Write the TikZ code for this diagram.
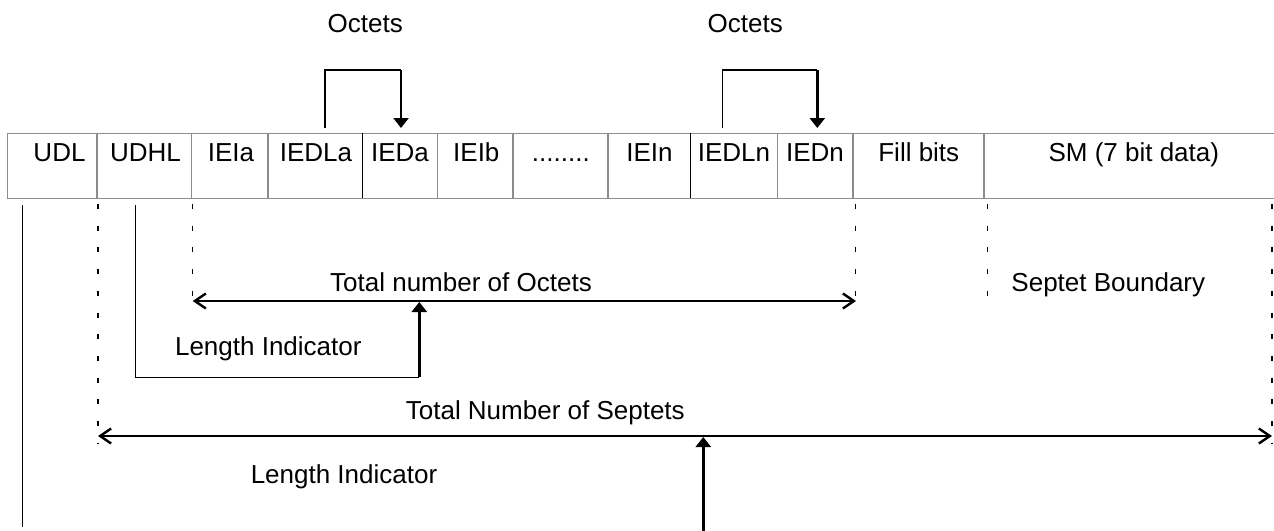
\documentclass[tikz,border=0pt]{standalone}
\usepackage{fontspec}
\setmainfont{Liberation Sans}
\usetikzlibrary{arrows.meta}
\begin{document}
\begin{tikzpicture}[x=1pt,y=-1pt,
  lbl/.style={anchor=base,inner sep=0pt,font=\fontsize{26}{30}\selectfont},
  cellline/.style={draw=black!45,line width=1.1pt},
  darkline/.style={draw=black,line width=1.1pt},
  thinl/.style={draw=black,line width=1.3pt},
  thickl/.style={draw=black,line width=2.6pt},
  dashl/.style={draw=black,line width=1.3pt,dash pattern=on 5pt off 16.7pt},
  openarr/.style={thickl,{Straight Barb[length=11pt,width=15pt,line width=2.4pt]}-{Straight Barb[length=11pt,width=15pt,line width=2.4pt]}},
  fillarr/.style={thickl,-{Triangle[length=10pt,width=15pt]}}
]
\useasboundingbox (0,0) rectangle (1274,530);

% ---- the field row ----
\draw[cellline] (7.3,133.3) -- (1274,133.3);
\draw[cellline] (7.3,198.3) -- (1274,198.3);
\foreach \x in {7.3,97,191.7,268,437.3,513,608,777.3,853,984}
  \draw[cellline] (\x,133.3) -- (\x,198.3);
\draw[darkline] (362.3,133.3) -- (362.3,198.3);
\draw[darkline] (690.7,133.3) -- (690.7,198.3);

\node[lbl] (udl)   at (59.5,161.7)  {UDL};
\node[lbl] (udhl)  at (145.5,161.7) {UDHL};
\node[lbl] (ieia)  at (231,161.7)   {IEIa};
\node[lbl] (iedla) at (316,161.7)   {IEDLa};
\node[lbl] (ieda)  at (400,161.7)   {IEDa};
\node[lbl] (ieib)  at (476.3,161.7) {IEIb};
\node[lbl] (dots)  at (560.8,161.7) {........};
\node[lbl] (iein)  at (649.5,161.7) {IEIn};
\node[lbl] (iedln) at (734,161.7)   {IEDLn};
\node[lbl] (iedn)  at (815,161.7)   {IEDn};
\node[lbl] (fill)  at (918.8,161.7) {Fill bits};
\node[lbl] (sm)    at (1133.8,161.7) {SM (7 bit data)};

% ---- octets brackets ----
\node[lbl] (oct1) at (365.3,32.3) {Octets};
\node[lbl] (oct2) at (745.3,32.3) {Octets};
\coordinate (b1s) at (325,128.3);
\coordinate (b1c) at (401,70);
\coordinate (b1t) at (401,128);
\coordinate (b2s) at (722.3,128.3);
\coordinate (b2c) at (817.3,70);
\coordinate (b2t) at (817.3,128);
\draw[thinl] (b1s) |- (b1c);
\draw[fillarr] (b1c) -- (b1t);
\draw[thinl] (b2s) |- (b2c);
\draw[fillarr] (b2c) -- (b2t);

% ---- guide lines below the row ----
\coordinate (udlTop) at (22.3,205);
\coordinate (udlBot) at (22.3,527);
\draw[thinl] (udlTop) -- (udlBot);

\coordinate (d1a) at (98,204);    \coordinate (d1b) at (98,444);
\coordinate (d2a) at (192.7,204); \coordinate (d2b) at (192.7,304);
\coordinate (d3a) at (855.7,204); \coordinate (d3b) at (855.7,302);
\coordinate (d4a) at (987.7,204); \coordinate (d4b) at (987.7,296);
\coordinate (d5a) at (1272,204);  \coordinate (d5b) at (1272,444);
\foreach \a/\b in {d1a/d1b,d2a/d2b,d3a/d3b,d4a/d4b,d5a/d5b}
  \draw[dashl] (\a) -- (\b);

% ---- total number of octets ----
\coordinate (octL) at (192.7,301);
\coordinate (octR) at (856,301);
\draw[openarr] (octL) -- (octR);
\node[lbl] (totoct) at (461,291) {Total number of Octets};
\node[lbl] (septb) at (1108.3,291) {Septet Boundary};

% ---- length indicator (UDHL) ----
\coordinate (li1s) at (135.7,205);
\coordinate (li1c) at (419.3,377.3);
\coordinate (li1t) at (419.3,302);
\draw[thinl] (li1s) |- (li1c);
\draw[fillarr] (li1c) -- (li1t);
\node[lbl] (len1) at (268.3,355) {Length Indicator};

% ---- total number of septets ----
\coordinate (sepL) at (98,436);
\coordinate (sepR) at (1272,436);
\draw[openarr] (sepL) -- (sepR);
\node[lbl] (totsep) at (545.3,419.3) {Total Number of Septets};

% ---- length indicator (UDL) ----
\coordinate (li2s) at (703.3,531);
\coordinate (li2t) at (703.3,437);
\draw[fillarr] (li2s) -- (li2t);
\node[lbl] (len2) at (344,483.3) {Length Indicator};
\end{tikzpicture}
\end{document}
